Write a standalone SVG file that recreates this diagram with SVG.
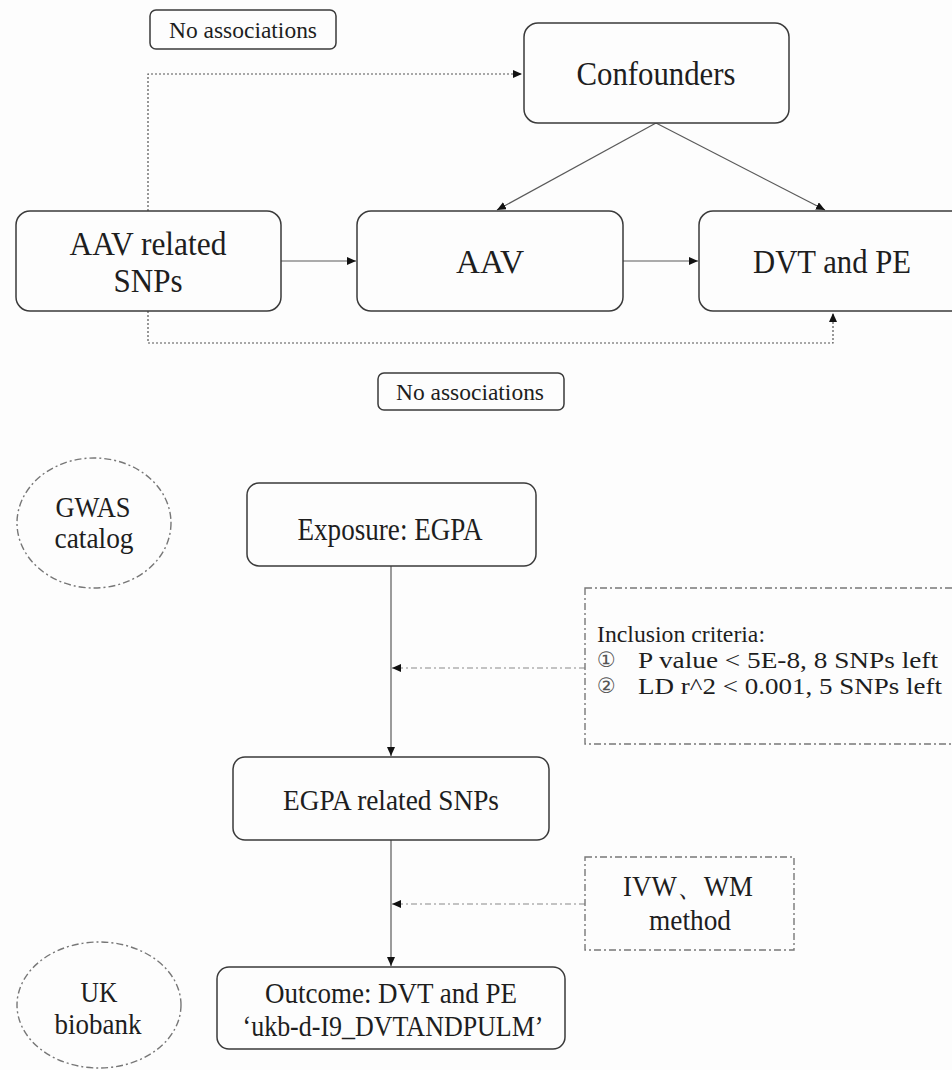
<svg xmlns="http://www.w3.org/2000/svg" width="952" height="1070" viewBox="0 0 952 1070">
<style>
.bg{fill:#fdfdfd}
.box{fill:#fdfdfd;stroke:#3a3a3a;stroke-width:1.5}
.dd{fill:none;stroke:#777;stroke-width:1.4;stroke-dasharray:7,3,2,3}
.t{font-family:"Liberation Serif","Times New Roman",serif;fill:#1e1e1e;text-anchor:middle}
.tl{font-family:"Liberation Serif","Times New Roman",serif;fill:#1e1e1e}
.c{font-family:"DejaVu Sans","Noto Sans",sans-serif;fill:#555}
.solid{fill:none;stroke:#5a5a5a;stroke-width:1.2}
.dot{fill:none;stroke:#555;stroke-width:1.2;stroke-dasharray:2,2}
.dashdot{fill:none;stroke:#8a8a8a;stroke-width:1.2;stroke-dasharray:6,3,2,3}
</style>
<defs>
<marker id="ah" markerUnits="userSpaceOnUse" markerWidth="9" markerHeight="8" refX="9" refY="4" orient="auto">
<path d="M0,0 L9,4 L0,8 z" fill="#111"/>
</marker>
</defs>
<rect class="bg" x="0" y="0" width="952" height="1070"/>

<g id="connectors">
<path class="dot" d="M148,211 V74 H522" marker-end="url(#ah)"/>
<path class="dot" d="M148,311 V343 H833 V313" marker-end="url(#ah)"/>
<path class="solid" d="M281,261 H356" marker-end="url(#ah)"/>
<path class="solid" d="M623,261 H698" marker-end="url(#ah)"/>
<path class="solid" d="M656,123 L497,210" marker-end="url(#ah)"/>
<path class="solid" d="M656,123 L825,210" marker-end="url(#ah)"/>
<path class="solid" d="M391,566 V756" marker-end="url(#ah)"/>
<path class="solid" d="M391,840 V966" marker-end="url(#ah)"/>
<path class="dashdot" d="M585,668 H392" marker-end="url(#ah)"/>
<path class="dashdot" d="M585,904 H392" marker-end="url(#ah)"/>
</g>

<g id="label-no-assoc-top">
<rect class="box" x="150" y="10" width="186" height="39" rx="6"/>
<text class="t" x="243" y="38" font-size="24" textLength="148" lengthAdjust="spacingAndGlyphs">No associations</text>
</g>
<g id="confounders">
<rect class="box" x="524" y="23" width="265" height="100" rx="14"/>
<text class="t" x="656" y="85" font-size="33" textLength="159" lengthAdjust="spacingAndGlyphs">Confounders</text>
</g>
<g id="aav-snps">
<rect class="box" x="16" y="211" width="265" height="100" rx="14"/>
<text class="t" x="148" y="255" font-size="33" textLength="157" lengthAdjust="spacingAndGlyphs">AAV related</text>
<text class="t" x="148" y="292" font-size="33" textLength="69" lengthAdjust="spacingAndGlyphs">SNPs</text>
</g>
<g id="aav">
<rect class="box" x="357" y="211" width="266" height="100" rx="14"/>
<text class="t" x="490" y="273" font-size="33" textLength="68" lengthAdjust="spacingAndGlyphs">AAV</text>
</g>
<g id="dvt-pe">
<rect class="box" x="699" y="211" width="266" height="100" rx="14"/>
<text class="t" x="832" y="273" font-size="33" textLength="158" lengthAdjust="spacingAndGlyphs">DVT and PE</text>
</g>
<g id="label-no-assoc-bottom">
<rect class="box" x="378" y="373" width="186" height="37" rx="6"/>
<text class="t" x="470" y="400" font-size="24" textLength="148" lengthAdjust="spacingAndGlyphs">No associations</text>
</g>

<g id="gwas-catalog">
<ellipse class="dd" cx="94" cy="523" rx="77" ry="65"/>
<text class="t" x="93" y="517" font-size="29" textLength="75" lengthAdjust="spacingAndGlyphs">GWAS</text>
<text class="t" x="94" y="548" font-size="29" textLength="79" lengthAdjust="spacingAndGlyphs">catalog</text>
</g>
<g id="exposure">
<rect class="box" x="247" y="483" width="289" height="83" rx="12"/>
<text class="t" x="390" y="540" font-size="31" textLength="185" lengthAdjust="spacingAndGlyphs">Exposure: EGPA</text>
</g>
<g id="inclusion-criteria">
<rect class="dd" x="585" y="588" width="380" height="156"/>
<text class="tl" x="597" y="642" font-size="23" textLength="168" lengthAdjust="spacingAndGlyphs">Inclusion criteria:</text>
<text class="c" x="597" y="667" font-size="21">①</text>
<text class="tl" x="638" y="668" font-size="23" textLength="300" lengthAdjust="spacingAndGlyphs">P value &lt; 5E-8, 8 SNPs left</text>
<text class="c" x="597" y="693" font-size="21">②</text>
<text class="tl" x="638" y="694" font-size="23" textLength="304" lengthAdjust="spacingAndGlyphs">LD r^2 &lt; 0.001, 5 SNPs left</text>
</g>
<g id="egpa-snps">
<rect class="box" x="233" y="757" width="316" height="83" rx="12"/>
<text class="t" x="391" y="810" font-size="30" textLength="216" lengthAdjust="spacingAndGlyphs">EGPA related SNPs</text>
</g>
<g id="ivw-wm">
<rect class="dd" x="585" y="857" width="209" height="93"/>
<text class="t" x="688" y="896" font-size="29" textLength="130" lengthAdjust="spacingAndGlyphs">IVW、WM</text>
<text class="t" x="690" y="930" font-size="29" textLength="82" lengthAdjust="spacingAndGlyphs">method</text>
</g>
<g id="outcome">
<rect class="box" x="217" y="967" width="348" height="82" rx="12"/>
<text class="t" x="391" y="1003" font-size="30" textLength="252" lengthAdjust="spacingAndGlyphs">Outcome: DVT and PE</text>
<text class="t" x="393" y="1036" font-size="30" textLength="301" lengthAdjust="spacingAndGlyphs">‘ukb-d-I9_DVTANDPULM’</text>
</g>
<g id="uk-biobank">
<ellipse class="dd" cx="99" cy="1005" rx="82" ry="63"/>
<text class="t" x="99" y="1002" font-size="29" textLength="37" lengthAdjust="spacingAndGlyphs">UK</text>
<text class="t" x="98" y="1034" font-size="29" textLength="87" lengthAdjust="spacingAndGlyphs">biobank</text>
</g>
</svg>
